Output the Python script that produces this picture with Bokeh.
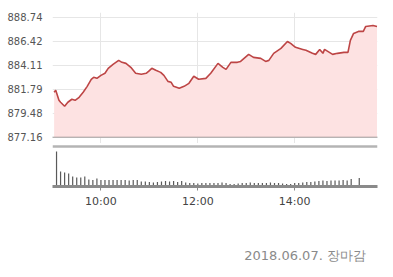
from bokeh.plotting import figure
from bokeh.layouts import column
from bokeh.models import Range1d, FixedTicker, Span, NumeralTickFormatter
from bokeh.core.properties import value
from bokeh.embed import file_html
from bokeh.resources import INLINE

# ---- data ----
price_times = ["09:02", "09:04", "09:08", "09:10", "09:15", "09:19", "09:24", "09:28", "09:33", "09:38",
               "09:43", "09:48", "09:51", "09:55", "10:00", "10:05", "10:09", "10:15", "10:22", "10:26",
               "10:31", "10:37", "10:43", "10:50", "10:56", "10:59", "11:03", "11:08", "11:14", "11:18",
               "11:23", "11:27", "11:30", "11:37", "11:43", "11:49", "11:55", "12:01", "12:10", "12:16",
               "12:25", "12:31", "12:35", "12:41", "12:49", "12:53", "13:03", "13:09", "13:18", "13:24",
               "13:28", "13:34", "13:43", "13:51", "13:55", "14:01", "14:10", "14:14", "14:22", "14:26",
               "14:31", "14:35", "14:37", "14:41", "14:47", "14:53", "15:01", "15:06", "15:09", "15:13",
               "15:19", "15:25", "15:28", "15:37", "15:42"]
prices = [881.50, 881.70, 880.73, 880.54, 880.15, 880.54, 880.83, 880.73, 881.02, 881.50,
          882.08, 882.76, 882.95, 882.85, 883.14, 883.34, 883.82, 884.20, 884.59, 884.40,
          884.30, 883.92, 883.34, 883.24, 883.34, 883.53, 883.82, 883.63, 883.43, 883.14,
          882.56, 882.47, 882.08, 881.89, 882.08, 882.37, 883.05, 882.76, 882.85, 883.34,
          884.30, 883.92, 883.72, 884.40, 884.40, 884.49, 885.17, 884.88, 884.78, 884.49,
          884.59, 885.27, 885.75, 886.42, 886.23, 885.85, 885.65, 885.56, 885.27, 885.17,
          885.65, 885.27, 885.65, 885.46, 885.17, 885.27, 885.36, 885.36, 886.52, 887.20,
          887.39, 887.39, 887.87, 887.97, 887.87]

vol_times = ["%02d:%02d" % divmod(m, 60) for m in range(9 * 60 + 5, 15 * 60 + 15, 5)] + ["15:20"]
volumes = [3500, 1500, 1400, 1300, 1000, 900, 900, 1000, 700, 650,
           800, 650, 650, 650, 650, 650, 650, 650, 600, 650,
           650, 500, 500, 450, 400, 450, 500, 550, 500, 550,
           450, 550, 400, 350, 350, 300, 350, 350, 350, 350,
           350, 400, 350, 250, 250, 300, 350, 350, 400, 350,
           350, 350, 350, 400, 350, 350, 300, 250, 250, 350,
           350, 400, 450, 450, 500, 550, 600, 550, 600, 600,
           600, 650, 600, 750, 850]

y_ticks = [877.16, 879.48, 881.79, 884.11, 886.42, 888.74]
base_price = 877.16
x_ticks = [10, 12, 14]
x_tick_labels = ["10:00", "12:00", "14:00"]
footer = "2018.06.07. 장마감"


def to_hours(s):
    h, m = s.split(":")
    return int(h) + int(m) / 60.0


px = [to_hours(t) for t in price_times]
vx = [to_hours(t) for t in vol_times]

FONT = "DejaVu Sans"
xr = Range1d(9.0, 15.71)

# ---- price panel ----
p1 = figure(width=393, height=143, x_range=xr, y_range=Range1d(876.55, 889.22),
            output_backend="svg", toolbar_location=None,
            min_border_left=52, min_border_right=16, min_border_top=12, min_border_bottom=0)
p1.outline_line_color = None
p1.background_fill_color = "white"
p1.border_fill_color = "white"
p1.xaxis.visible = False
p1.xgrid.ticker = FixedTicker(ticks=x_ticks)
p1.xgrid.grid_line_color = "#e6e6e6"
p1.ygrid.grid_line_color = "#e6e6e6"
p1.yaxis.ticker = FixedTicker(ticks=y_ticks)
p1.yaxis.formatter = NumeralTickFormatter(format="0.00")
p1.yaxis.axis_line_color = None
p1.yaxis.major_tick_line_color = None
p1.yaxis.minor_tick_line_color = None
p1.yaxis.major_label_standoff = 4
p1.yaxis.major_label_text_font = FONT
p1.yaxis.major_label_text_font_size = "10px"
p1.yaxis.major_label_text_color = "#555555"

p1.varea(x=px, y1=[base_price] * len(px), y2=prices, fill_color="#fde2e2", fill_alpha=1.0)
p1.add_layout(Span(location=base_price, dimension="width", line_color="#555555",
                   line_dash="1 1", line_width=1))
p1.line(px, prices, line_color="#bd4545", line_width=1.6)

# ---- volume panel ----
p2 = figure(width=393, height=75, x_range=xr, y_range=Range1d(0, 4300),
            output_backend="svg", toolbar_location=None,
            min_border_left=52, min_border_right=16, min_border_top=0, min_border_bottom=32)
p2.outline_line_color = None
p2.background_fill_color = "white"
p2.border_fill_color = "white"
p2.yaxis.visible = False
p2.grid.visible = False
p2.xaxis.ticker = FixedTicker(ticks=x_ticks)
p2.xaxis.major_label_overrides = dict(zip(x_ticks, x_tick_labels))
p2.xaxis.axis_line_width = 3
p2.xaxis.axis_line_color = "#8a8a8a"
p2.xaxis.major_tick_line_color = "#8a8a8a"
p2.xaxis.major_tick_out = 4
p2.xaxis.major_tick_in = 0
p2.xaxis.minor_tick_line_color = None
p2.xaxis.major_label_standoff = 4
p2.xaxis.major_label_text_font = FONT
p2.xaxis.major_label_text_font_size = "11px"
p2.xaxis.major_label_text_color = "#444444"

p2.add_layout(Span(location=4000, dimension="width", line_color="#b4b4b4", line_width=2.5))
p2.segment(x0=vx, y0=[0] * len(vx), x1=vx, y1=volumes, line_color="#5a5a5a", line_width=1.2)

# ---- footer ----
p3 = figure(width=393, height=59, x_range=Range1d(0, 393), y_range=Range1d(0, 59),
            output_backend="svg", toolbar_location=None,
            min_border_left=0, min_border_right=0, min_border_top=0, min_border_bottom=0)
p3.axis.visible = False
p3.grid.visible = False
p3.outline_line_color = None
p3.border_fill_color = "white"
p3.text(x=[379], y=[22], text=[footer], text_align="right", text_baseline="middle",
        text_font=value(FONT), text_font_size="13px", text_color="#8a8a8a")

layout = column(p1, p2, p3, spacing=0)
open("out.html", "w").write(file_html(layout, INLINE))
